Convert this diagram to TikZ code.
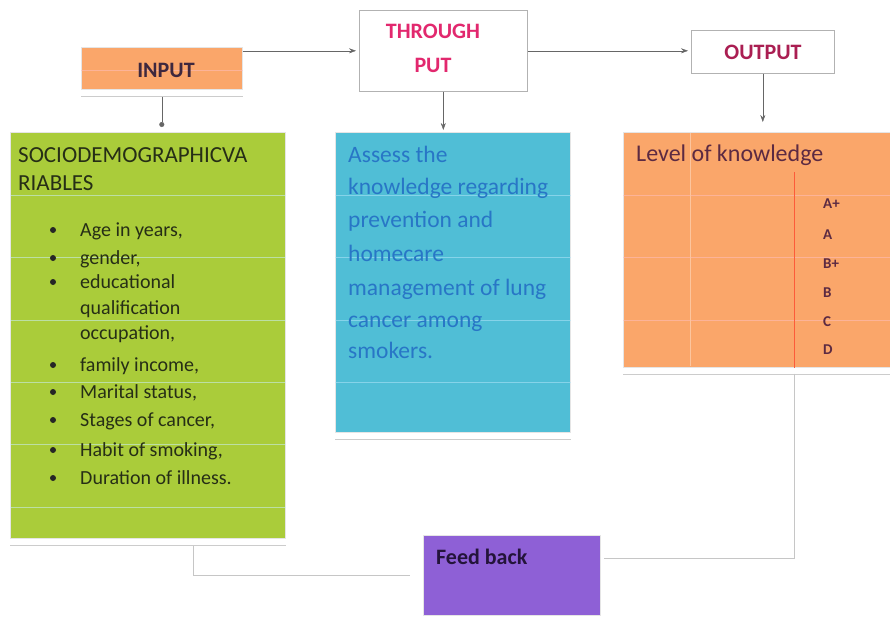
\documentclass[tikz,border=0pt]{standalone}
\usepackage{fontspec}
\setmainfont{Carlito}
\usetikzlibrary{positioning, arrows, arrows.meta, calc}
\definecolor{boxorange}{RGB}{250,166,106}
\definecolor{socgreen}{RGB}{170,204,58}
\definecolor{assessblue}{RGB}{80,190,214}
\definecolor{fbpurple}{RGB}{142,96,214}
\definecolor{inputtext}{RGB}{62,40,62}
\definecolor{throughtext}{RGB}{226,40,110}
\definecolor{outputtext}{RGB}{170,30,82}
\definecolor{soctext}{RGB}{38,46,22}
\definecolor{assesstext}{RGB}{40,118,198}
\definecolor{leveltext}{RGB}{92,42,66}
\definecolor{fbtext}{RGB}{36,20,58}
\tikzset{
  model/.style={
	x=1pt, y=-1pt, % one unit is one pixel, y grows downwards
	>={Stealth[length=7pt, width=5pt]}, % small solid arrow heads
	every node/.style={inner sep=0pt},
  },
  block/.style={rectangle, anchor=north west, draw=gray!20, line width=0.6pt}, % the coloured boxes
  link/.style={->, draw=gray!80!black, thin, shorten >=3pt}, % arrows of the model
  loopline/.style={draw=gray!45, thin}, % lines to the feed back box
  shadowline/.style={draw=gray!40, line width=1pt}, % grey edge under a box
  scan/.style={line width=0.8pt, opacity=0.55}, % the pale stripes across the boxes
  head/.style={font=\fontsize{22}{34}\selectfont\bfseries},
}

\begin{document}
\begin{tikzpicture}[model]
	\useasboundingbox (0,0) rectangle (890,622);

	% top row
	\node[block, fill=boxorange, minimum width=161pt, minimum height=42pt] (input) at (81,47) {};
	\draw[scan, draw=pink] (input.west |- 0,70) -- (input.east |- 0,70);
	\node[head, text=inputtext] (inputlbl) at (166,70) {INPUT};
	\node[block, fill=white, draw=gray!60, minimum width=168pt, minimum height=81pt] (through) at (359,10) {};
	\node[head, text=throughtext, align=center] (throughlbl) at (433,48) {THROUGH\\PUT};
	\node[block, fill=white, draw=gray!60, minimum width=143pt, minimum height=43pt] (output) at (691,30) {};
	\node[head, text=outputtext] (outputlbl) at (763,52) {OUTPUT};

	% the three boxes and the feed back
	\node[block, fill=socgreen, minimum width=275pt, minimum height=406pt] (socio) at (10,132) {};
	\node[block, fill=assessblue, minimum width=235pt, minimum height=300pt] (assess) at (335,132) {};
	\node[block, fill=boxorange, minimum width=267pt, minimum height=235pt] (level) at (623,132) {};
	\node[block, fill=fbpurple, minimum width=177pt, minimum height=80pt] (feedback) at (423,535) {};
	\foreach \b in {input,socio,assess,level}
	  \draw[shadowline] ([yshift=-7pt]\b.south west) -- ([yshift=-7pt]\b.south east);

	\foreach \y in {195,257,320,382,444,507}
	  \draw[scan, draw=cyan!20] (socio.west |- 0,\y) -- (socio.east |- 0,\y);
	\foreach \y in {195,257,320,382}
	  \draw[scan, draw=cyan!30] (assess.west |- 0,\y) -- (assess.east |- 0,\y);
	\foreach \y in {195,257,320}
	  \draw[scan, draw=pink] (level.west |- 0,\y) -- (level.east |- 0,\y);
	\draw[white!35!boxorange] (690,133) -- (690,366);
	\draw[red!45!boxorange] (794,172) -- (level.south -| 794,0);

	% texts of the boxes
	\node[anchor=base west, align=left, font=\fontsize{23}{28}\selectfont, text=soctext] (soctitle) at (18,190) {SOCIODEMOGRAPHICVA\\RIABLES};
	\foreach \y/\txt in {230/{Age in years,}, 258/{gender,}, 282/{educational}, 365/{family income,}, 392/{Marital status,}, 420/{Stages of cancer,}, 450/{Habit of smoking,}, 478/{Duration of illness.}}{
	  \node[circle, fill=black!85, minimum size=6pt] (dot\y) at (53,\y) {};
	  \node[anchor=base west, font=\fontsize{20}{24}\selectfont, text=soctext] (item\y) at (80,\y+6) {\txt};
	}
	\node[anchor=base west, font=\fontsize{20}{24}\selectfont, text=soctext] (qual) at (80,314) {qualification};
	\node[anchor=base west, font=\fontsize{20}{24}\selectfont, text=soctext] (occup) at (80,339) {occupation,};

	\foreach \y/\txt in {155/{Assess the}, 187/{knowledge regarding}, 220/{prevention and}, 254/{homecare}, 288/{management of lung}, 320/{cancer among}, 351/{smokers.}}
	  \node[anchor=base west, font=\fontsize{23.5}{28}\selectfont, text=assesstext] (line\y) at (348,\y+7) {\txt};

	\node[anchor=base west, font=\fontsize{24}{28}\selectfont, text=leveltext] (leveltitle) at (636,161) {Level of knowledge};
	\foreach \y/\g in {203/A+, 234/A, 263/B+, 292/B, 321/C, 349/D}
	  \node[anchor=base west, font=\fontsize{15}{18}\selectfont\bfseries, text=leveltext] (grade\y) at (823,\y+5) {\g};

	\node[anchor=base west, font=\fontsize{22}{26}\selectfont\bfseries, text=fbtext] (fblbl) at (436,564) {Feed back};

	% connectors
	\draw[link] (input.east |- through.west) -- (through.west);
	\draw[link] (through.east) -- (through.east -| output.west);
	\draw[link, -{Circle[length=5pt]}, shorten <=7pt, shorten >=5pt] (input.south) -- (socio.north -| input.south);
	\draw[link, shorten >=2pt] (through.south) -- (through.south |- assess.north);
	\draw[link, shorten >=10pt] (output.south) -- (output.south |- level.north);
	\draw[loopline, shorten <=7pt, shorten >=13pt] ([xshift=45.5pt]socio.south) |- (feedback.west);
	\draw[loopline, shorten <=6pt, shorten >=3pt] ([xshift=37.5pt]level.south) |- ([yshift=17pt]feedback.east);
\end{tikzpicture}
\end{document}
